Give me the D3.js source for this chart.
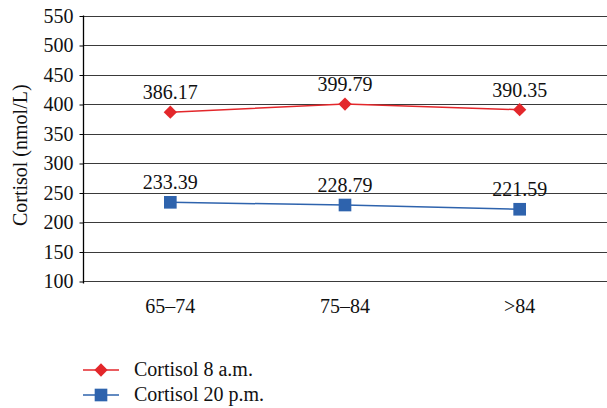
<html>
<head>
<meta charset="utf-8">
<script src="https://cdn.jsdelivr.net/npm/d3@7"></script>
</head>
<body style="margin:0">
<svg id="chart" width="607" height="408"></svg>
<script>
// Age groups and mean cortisol levels (nmol/L)
const ageGroups = ["65\u201374", "75\u201384", ">84"];
const cortisolMorning = [386.17, 399.79, 390.35];
const cortisolEvening = [233.39, 228.79, 221.59];
const yTicks = [100, 150, 200, 250, 300, 350, 400, 450, 500, 550];
const seriesNames = ["Cortisol 8 a.m.", "Cortisol 20 p.m."];

const FONT = '"Liberation Serif", "Times New Roman", monospace';
const svg = d3.select("#chart");
const plotLeft = 83, plotRight = 607, plotTop = 15.5, plotBottom = 281;

const x = d3.scalePoint().domain(ageGroups).range([plotLeft, plotRight]).padding(0.5);
const y = d3.scaleLinear().domain([100, 550]).range([plotBottom, plotTop]);

const styleText = sel => sel
  .style("font-family", FONT)
  .style("font-size", "20px")
  .style("fill", "#111");

// Horizontal gridlines
svg.append("g")
  .selectAll("line")
  .data(yTicks)
  .join("line")
  .attr("x1", plotLeft).attr("x2", plotRight)
  .attr("y1", d => Math.round(y(d)) + 0.5).attr("y2", d => Math.round(y(d)) + 0.5)
  .attr("stroke", "#3a3a3a").attr("stroke-width", 1);

// Y axis
const yAxis = svg.append("g")
  .attr("transform", `translate(${plotLeft + 0.5},0.5)`)
  .call(d3.axisLeft(y).tickValues(yTicks).tickSize(4).tickPadding(6).tickSizeOuter(0));
yAxis.attr("font-family", null).attr("font-size", null);
yAxis.select(".domain").attr("stroke", "#000").attr("stroke-width", 1.3)
  .attr("d", `M0,${plotTop - 0.5}V${plotBottom + 2}`);
yAxis.selectAll(".tick line").attr("stroke", "#000");
yAxis.selectAll(".tick text").call(styleText);

// X axis labels
svg.append("g")
  .selectAll("text")
  .data(ageGroups)
  .join("text")
  .attr("x", d => x(d)).attr("y", 313)
  .attr("text-anchor", "middle")
  .call(styleText)
  .text(d => d);

// Y axis title
svg.append("text")
  .attr("transform", `translate(27,${(plotTop + plotBottom) / 2 + 7}) rotate(-90)`)
  .attr("text-anchor", "middle")
  .call(styleText)
  .text("Cortisol (nmol/L)");

const series = [
  { name: seriesNames[0], values: cortisolMorning, color: "#e3272b", diamond: true },
  { name: seriesNames[1], values: cortisolEvening, color: "#2e63ad", diamond: false }
];

// Markers: diamond is a square turned 45 degrees
const markerPath = s => d3.symbol().type(d3.symbolSquare).size(s.diamond ? 88 : 160)();
const markerRot = s => (s.diamond ? " rotate(45)" : "");

const line = d3.line().x((d, i) => x(ageGroups[i])).y(d => y(d));

series.forEach(s => {
  const g = svg.append("g");
  g.append("path")
    .attr("d", line(s.values))
    .attr("fill", "none").attr("stroke", s.color).attr("stroke-width", 1.5);
  g.selectAll("path.m")
    .data(s.values)
    .join("path").attr("class", "m")
    .attr("transform", (d, i) => `translate(${x(ageGroups[i])},${y(d)})${markerRot(s)}`)
    .attr("d", markerPath(s))
    .attr("fill", s.color);
  g.selectAll("text")
    .data(s.values)
    .join("text")
    .attr("x", (d, i) => x(ageGroups[i]))
    .attr("y", d => y(d) - 13)
    .attr("text-anchor", "middle")
    .call(styleText)
    .text(d => d.toFixed(2));
});

// Legend
const legend = svg.append("g");
series.forEach((s, i) => {
  const ly = 370 + i * 25;
  legend.append("line")
    .attr("x1", 83).attr("x2", 119).attr("y1", ly).attr("y2", ly)
    .attr("stroke", s.color).attr("stroke-width", 1.5);
  legend.append("path")
    .attr("transform", `translate(101,${ly})${markerRot(s)}`)
    .attr("d", markerPath(s))
    .attr("fill", s.color);
  legend.append("text")
    .attr("x", 134).attr("y", ly + 6)
    .call(styleText)
    .text(s.name);
});
</script>
</body>
</html>
